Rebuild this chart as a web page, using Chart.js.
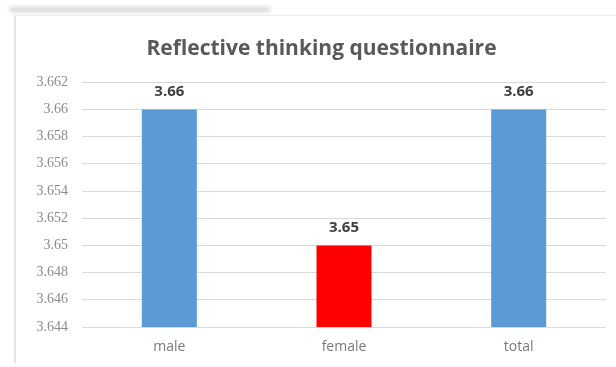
<!DOCTYPE html>
<html>
<head>
<meta charset="utf-8">
<script src="https://cdn.jsdelivr.net/npm/chart.js@4"></script>
<style>
    html, body { margin: 0; padding: 0; background: #fff; }
    #wrap { position: absolute; left: 0; top: 0; width: 616px; height: 367px; }
    #frame { position: absolute; left: 14px; top: 15px; width: 600px; height: 347px;
             border-left: 2px solid #e3e3e3; border-top: 1px solid #eeeeee; }
    #scrap { position: absolute; left: 10px; top: 7px; width: 260px; height: 5px;
             background: #b8b8b8; filter: blur(2px); opacity: 0.6; }
</style>
</head>
<body>
<div id="wrap">
    <div id="scrap"></div>
    <div id="frame"></div>
    <canvas id="chart" width="616" height="367"></canvas>
</div>
<script>
const categories = ['male', 'female', 'total'];
const scores = [3.66, 3.65, 3.66];
const barColors = ['#5B9BD5', '#FF0000', '#5B9BD5'];
const yTicks = [3.644, 3.646, 3.648, 3.65, 3.652, 3.654, 3.656, 3.658, 3.66, 3.662];

// value labels above each bar
const valueLabels = {
    id: 'valueLabels',
    afterDatasetsDraw(chart) {
        const ctx = chart.ctx;
        const meta = chart.getDatasetMeta(0);
        ctx.save();
        ctx.font = 'bold 15px "Open Sans"';
        ctx.fillStyle = '#404040';
        ctx.textAlign = 'center';
        ctx.textBaseline = 'bottom';
        meta.data.forEach((bar, i) => {
            ctx.fillText(scores[i].toFixed(2), bar.x, bar.y - 10);
        });
        ctx.restore();
    }
};

const ctx = document.getElementById('chart').getContext('2d');
new Chart(ctx, {
    type: 'bar',
    data: {
        labels: categories,
        datasets: [{
            data: scores,
            backgroundColor: barColors,
            categoryPercentage: 1,
            barPercentage: 0.315
        }]
    },
    options: {
        responsive: false,
        animation: false,
        layout: { padding: { left: 37, right: 10, top: 26, bottom: 12 } },
        plugins: {
            legend: { display: false },
            tooltip: { enabled: false },
            title: {
                display: true,
                text: 'Reflective thinking questionnaire',
                color: '#595959',
                font: { family: '"Open Sans"', size: 21, weight: 'bold' },
                padding: { top: 10, bottom: 21 }
            }
        },
        scales: {
            x: {
                grid: { display: false, drawTicks: false },
                border: { display: false },
                afterFit: axis => { axis.height = 28; },
                ticks: {
                    color: '#7a7a7a',
                    font: { family: '"Open Sans"', size: 14 },
                    padding: 12
                }
            },
            y: {
                min: yTicks[0],
                max: yTicks[yTicks.length - 1],
                afterBuildTicks: axis => {
                    axis.ticks = yTicks.map(v => ({ value: v }));
                },
                afterFit: axis => { axis.width = 45; },
                grid: { color: '#d9d9d9', drawTicks: false },
                border: { display: false },
                ticks: {
                    color: '#8a8a8a',
                    font: { family: '"Liberation Serif"', size: 14 },
                    padding: 14,
                    callback: v => String(+v.toFixed(3))
                }
            }
        }
    },
    plugins: [valueLabels]
});
</script>
</body>
</html>
